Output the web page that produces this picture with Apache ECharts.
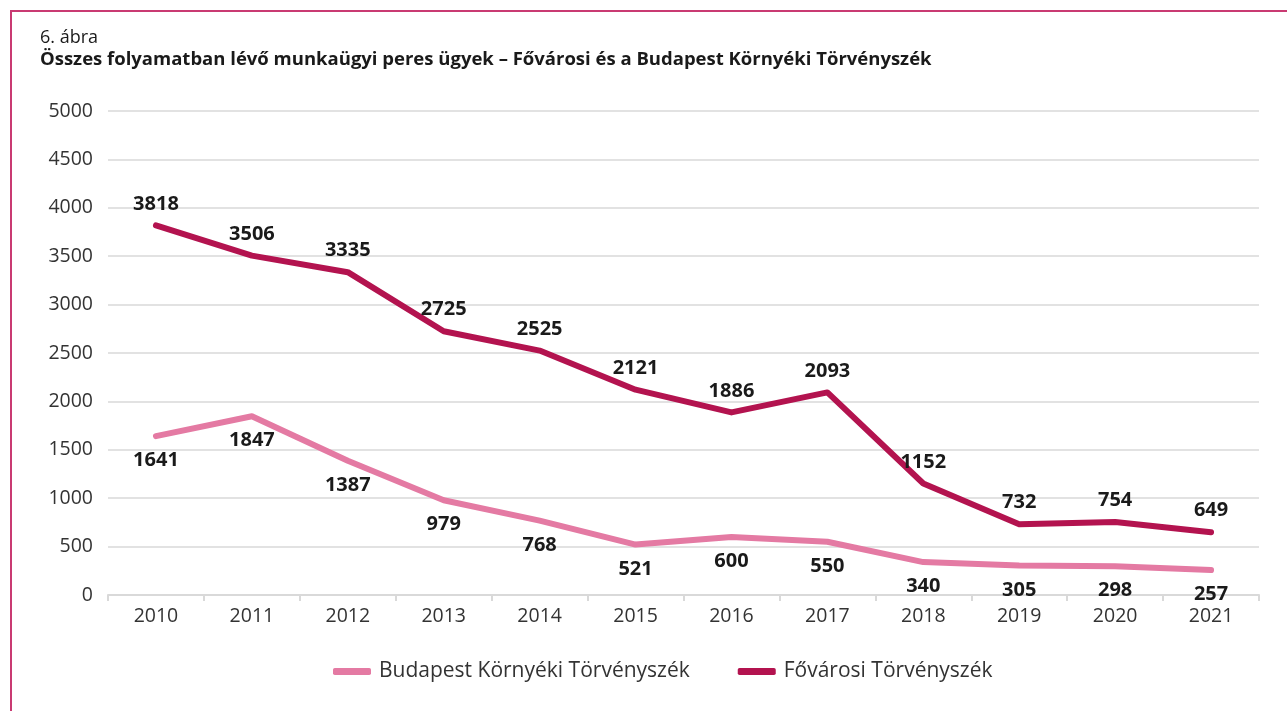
<!DOCTYPE html>
<html>
<head>
<meta charset="utf-8">
<script src="https://cdn.jsdelivr.net/npm/echarts@6/dist/echarts.min.js"></script>
<style>
html,body{margin:0;padding:0;background:#fff;overflow:hidden;}
#frame{position:absolute;left:10px;top:10px;width:1300px;height:720px;border-left:2px solid #c93a72;border-top:2px solid #c93a72;box-sizing:border-box;}
#chart{position:absolute;left:0;top:0;width:1287px;height:711px;}
</style>
</head>
<body>
<div id="frame"></div>
<div id="chart"></div>
<script>
const years = ['2010','2011','2012','2013','2014','2015','2016','2017','2018','2019','2020','2021'];
const budapestKornyeki = [1641,1847,1387,979,768,521,600,550,340,305,298,257];
const fovarosi = [3818,3506,3335,2725,2525,2121,1886,2093,1152,732,754,649];
const seriesNames = ['Budapest Környéki Törvényszék','Fővárosi Törvényszék'];
const yTicks = {min:0, max:5000, interval:500};

const FONT = '"Open Sans", "Noto Sans", sans-serif';
const chart = echarts.init(document.getElementById('chart'), null, {renderer:'canvas'});
chart.setOption({
  animation:false,
  textStyle:{fontFamily:FONT},
  title:[
    {text:'6. ábra', left:35, top:24, textStyle:{fontFamily:FONT,fontSize:18,fontWeight:'normal',color:'#1a1a1a'}},
    {text:'Összes folyamatban lévő munkaügyi peres ügyek – Fővárosi és a Budapest Környéki Törvényszék', left:35, top:45, textStyle:{fontFamily:FONT,fontSize:18.5,fontWeight:'bold',color:'#1a1a1a'}}
  ],
  grid:{left:108,right:28,top:111,bottom:116,containLabel:false},
  legend:{
    bottom:24, left:328, itemGap:48, itemWidth:38, itemHeight:7,
    icon:'roundRect',
    textStyle:{fontFamily:FONT,fontSize:21,color:'#333',padding:[0,0,0,3]},
    data:seriesNames
  },
  xAxis:{
    type:'category', data:years, boundaryGap:true,
    axisLine:{lineStyle:{color:'#d9d9d9',width:2}},
    axisTick:{show:true,length:6,lineStyle:{color:'#d9d9d9',width:2}},
    axisLabel:{fontFamily:FONT,fontSize:19.5,color:'#333',margin:11}
  },
  yAxis:{
    type:'value', min:yTicks.min, max:yTicks.max, interval:yTicks.interval,
    axisLine:{show:false}, axisTick:{show:false},
    splitLine:{lineStyle:{color:'#d9d9d9',width:1.5}},
    axisLabel:{fontFamily:FONT,fontSize:19.5,color:'#333',margin:15,formatter:function(v){return String(v);}}
  },
  series:[
    {
      name:seriesNames[0], type:'line', data:budapestKornyeki,
      symbol:'circle', symbolSize:1, itemStyle:{color:'#e47aa3'},
      lineStyle:{color:'#e47aa3',width:6,cap:'round',join:'round'},
      label:{show:true,position:'bottom',distance:14,fontFamily:FONT,fontSize:20,fontWeight:'bold',color:'#1a1a1a'}
    },
    {
      name:seriesNames[1], type:'line', data:fovarosi,
      symbol:'circle', symbolSize:1, itemStyle:{color:'#b3134f'},
      lineStyle:{color:'#b3134f',width:6,cap:'round',join:'round'},
      label:{show:true,position:'top',distance:11,fontFamily:FONT,fontSize:20,fontWeight:'bold',color:'#1a1a1a'}
    }
  ]
});
</script>
</body>
</html>
